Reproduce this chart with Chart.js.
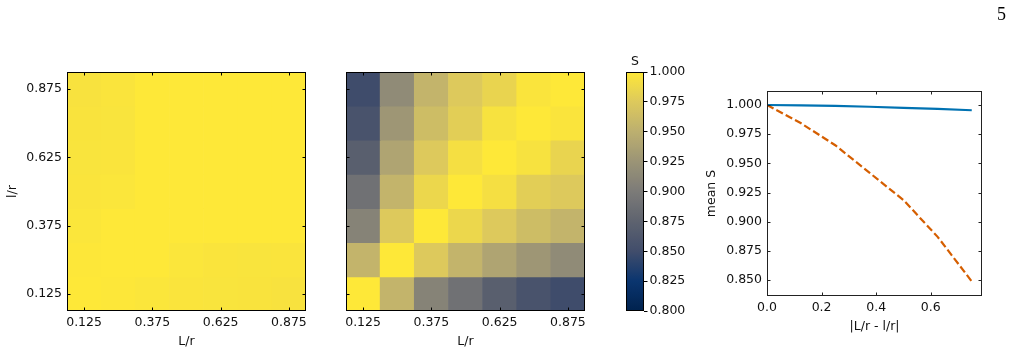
<!DOCTYPE html>
<html>
<head>
<meta charset="utf-8">
<script src="https://cdn.jsdelivr.net/npm/chart.js@4.4.0/dist/chart.umd.min.js"></script>
<style>
html,body{margin:0;padding:0;background:#fff;}
#wrap{position:relative;width:1013px;height:354px;overflow:hidden;background:#fff;}
canvas{position:absolute;top:0;}
#pg{position:absolute;left:997px;top:5px;font:18px/18px "Liberation Serif","DejaVu Serif",serif;color:#000;}
</style>
</head>
<body>
<div id="wrap">
<canvas id="h1" width="320" height="354" style="left:0px"></canvas>
<canvas id="h2" width="290" height="354" style="left:320px"></canvas>
<canvas id="cb" width="90" height="354" style="left:610px"></canvas>
<canvas id="lp" width="313" height="354" style="left:700px"></canvas>
<div id="pg">5</div>
</div>
<script>
// ---------------- data ----------------
const L_VALUES = [0.125, 0.25, 0.375, 0.5, 0.625, 0.75, 0.875];   // L/r (columns)
const l_VALUES = [0.125, 0.25, 0.375, 0.5, 0.625, 0.75, 0.875];   // l/r (rows)
const GRID_TICKS = [0.125, 0.375, 0.625, 0.875];
const CBAR_TICKS = [0.800, 0.825, 0.850, 0.875, 0.900, 0.925, 0.950, 0.975, 1.000];

// left heatmap: S(L, l), one array per l/r row, values along L/r
const leftRow_l0125 = [1.0000, 0.9992, 0.9980, 0.9970, 0.9964, 0.9962, 0.9955];
const leftRow_l0250 = [0.9992, 1.0000, 0.9998, 0.9980, 0.9970, 0.9964, 0.9970];
const leftRow_l0375 = [0.9980, 0.9998, 1.0000, 0.9999, 0.9998, 0.9998, 0.9997];
const leftRow_l0500 = [0.9970, 0.9980, 0.9999, 1.0000, 1.0000, 0.9999, 0.9998];
const leftRow_l0625 = [0.9964, 0.9970, 0.9998, 1.0000, 1.0000, 1.0000, 0.9999];
const leftRow_l0750 = [0.9962, 0.9964, 0.9998, 0.9999, 1.0000, 1.0000, 1.0000];
const leftRow_l0875 = [0.9955, 0.9970, 0.9997, 0.9998, 0.9999, 1.0000, 1.0000];

// middle heatmap
const rightRow_l0125 = [1.000, 0.955, 0.908, 0.890, 0.871, 0.857, 0.849];
const rightRow_l0250 = [0.955, 1.000, 0.975, 0.955, 0.940, 0.927, 0.916];
const rightRow_l0375 = [0.908, 0.975, 1.000, 0.986, 0.975, 0.963, 0.955];
const rightRow_l0500 = [0.890, 0.955, 0.986, 1.000, 0.993, 0.979, 0.975];
const rightRow_l0625 = [0.871, 0.940, 0.975, 0.993, 1.000, 0.995, 0.984];
const rightRow_l0750 = [0.857, 0.927, 0.963, 0.979, 0.995, 1.000, 0.997];
const rightRow_l0875 = [0.849, 0.916, 0.955, 0.975, 0.984, 0.997, 1.000];

// line plot
const DIFFS = [0, 0.125, 0.25, 0.375, 0.5, 0.625, 0.75];
const MEAN_S_SOLID  = [1.0000, 0.9997, 0.9992, 0.9985, 0.9976, 0.9966, 0.9955];
const MEAN_S_DASHED = [1.000, 0.9843, 0.9655, 0.9420, 0.9185, 0.8870, 0.8488];
const LINE_X_TICKS = [0.0, 0.2, 0.4, 0.6];
const LINE_Y_TICKS = [0.850, 0.875, 0.900, 0.925, 0.950, 0.975, 1.000];

// ---------------- styling helpers ----------------
const FONT = {family: "'DejaVu Sans', sans-serif", size: 12.5};
Chart.defaults.font.family = FONT.family;
Chart.defaults.font.size = FONT.size;
Chart.defaults.color = '#111';

const CIVIDIS = ['#00224e', '#0a356f', '#414d6b', '#5e636f', '#7c7b78', '#9b9476', '#bcaf6f', '#ddc95c', '#fee838'];
const CMIN = 0.8, CMAX = 1.0;
function hex2rgb(h) { return [parseInt(h.slice(1,3),16), parseInt(h.slice(3,5),16), parseInt(h.slice(5,7),16)]; }
const CIV_RGB = CIVIDIS.map(hex2rgb);
function cividis(t) {
  t = Math.max(0, Math.min(1, t));
  const f = t * (CIV_RGB.length - 1);
  const i = Math.min(Math.floor(f), CIV_RGB.length - 2);
  const u = f - i;
  const a = CIV_RGB[i], b = CIV_RGB[i + 1];
  const c = a.map((x, k) => Math.round(x + (b[k] - x) * u));
  return `rgb(${c[0]},${c[1]},${c[2]})`;
}
function colorFor(v) { return cividis((v - CMIN) / (CMAX - CMIN)); }

const frameTicks = {
  id: 'frameTicks',
  afterDatasetsDraw(chart, args, opts) {
    const {ctx, chartArea: a, scales} = chart;
    ctx.save();
    ctx.strokeStyle = opts.color || '#000';
    ctx.lineWidth = 1;
    const len = opts.len || 3.5;
    ctx.beginPath();
    (opts.xTicks || []).forEach(v => {
      const p = Math.round(scales.x.getPixelForValue(v)) + 0.5;
      ctx.moveTo(p, a.bottom); ctx.lineTo(p, a.bottom - len);
      ctx.moveTo(p, a.top); ctx.lineTo(p, a.top + len);
    });
    (opts.yTicks || []).forEach(v => {
      const p = Math.round(scales.y.getPixelForValue(v)) + 0.5;
      ctx.moveTo(a.left, p); ctx.lineTo(a.left + len, p);
      ctx.moveTo(a.right, p); ctx.lineTo(a.right - len, p);
    });
    ctx.stroke();
    ctx.strokeRect(a.left + 0.5, a.top + 0.5, a.right - a.left - 1, a.bottom - a.top - 1);
    ctx.restore();
  }
};

function heatmapData(rows) {
  const pts = [];
  rows.forEach((row, j) => {
    row.forEach((v, i) => {
      pts.push({x: L_VALUES[i], y: [l_VALUES[j] - 0.0625, l_VALUES[j] + 0.0625], v: v});
    });
  });
  return pts;
}

function heatmapConfig(rows, showY, padLeft, padRight) {
  return {
    type: 'bar',
    data: {
      datasets: [{
        data: heatmapData(rows),
        backgroundColor: (c) => c.raw ? colorFor(c.raw.v) : '#fff',
        borderWidth: 0,
        grouped: false,
        categoryPercentage: 1,
        barPercentage: 1
      }]
    },
    options: {
      responsive: false,
      animation: false,
      devicePixelRatio: 1,
      layout: {padding: {left: padLeft, right: padRight, top: 72, bottom: 0}},
      plugins: {
        legend: {display: false}, tooltip: {enabled: false},
        frameTicks: {xTicks: GRID_TICKS, yTicks: GRID_TICKS, len: 3.5, color: '#000'}
      },
      scales: {
        x: {
          type: 'linear', min: 0.0625, max: 0.9375, offset: false,
          grid: {display: false, drawTicks: false, offset: false},
          border: {display: false},
          afterBuildTicks: s => { s.ticks = GRID_TICKS.map(v => ({value: v})); },
          afterFit: s => { s.height = 43; },
          ticks: {autoSkip: false, maxRotation: 0, minRotation: 0, padding: 4, color: '#111',
                  callback: v => Number(v).toFixed(3)},
          title: {display: true, text: 'L/r', color: '#111', padding: {top: 0, bottom: 5}}
        },
        y: {
          type: 'linear', min: 0.0625, max: 0.9375, display: showY, beginAtZero: false,
          grid: {display: false, drawTicks: false},
          border: {display: false},
          afterBuildTicks: s => { s.ticks = GRID_TICKS.map(v => ({value: v})); },
          afterFit: s => { s.width = showY ? 67 : 0; },
          ticks: {autoSkip: false, padding: 5, color: '#111',
                  callback: v => Number(v).toFixed(3)},
          title: {display: showY, text: 'l/r', color: '#111', padding: {top: 5, bottom: 0}}
        }
      }
    },
    plugins: [frameTicks]
  };
}

new Chart(document.getElementById('h1'), heatmapConfig(
  [leftRow_l0125, leftRow_l0250, leftRow_l0375, leftRow_l0500, leftRow_l0625, leftRow_l0750, leftRow_l0875],
  true, 0, 14));
new Chart(document.getElementById('h2'), heatmapConfig(
  [rightRow_l0125, rightRow_l0250, rightRow_l0375, rightRow_l0500, rightRow_l0625, rightRow_l0750, rightRow_l0875],
  false, 26, 25));

// ---------------- colorbar ----------------
new Chart(document.getElementById('cb'), {
  type: 'bar',
  data: {
    labels: [''],
    datasets: [{
      data: [[CMIN, CMAX]],
      borderWidth: 0,
      categoryPercentage: 1,
      barPercentage: 1,
      backgroundColor: (c) => {
        const chart = c.chart;
        if (!chart.chartArea) return '#888';
        const ys = chart.scales.y;
        const g = chart.ctx.createLinearGradient(0, ys.getPixelForValue(CMIN), 0, ys.getPixelForValue(CMAX));
        const n = 64;
        for (let k = 0; k <= n; k++) g.addColorStop(k / n, cividis(k / n));
        return g;
      }
    }]
  },
  options: {
    responsive: false,
    animation: false,
    devicePixelRatio: 1,
    layout: {padding: {left: 16, right: 0, top: 52, bottom: 43}},
    plugins: {legend: {display: false}, tooltip: {enabled: false},
              frameTicks: {len: 0, color: '#000'}},
    scales: {
      x: {
        type: 'category', position: 'top',
        grid: {display: false, drawTicks: false},
        border: {display: false},
        ticks: {display: false},
        afterFit: s => { s.height = 20; },
        title: {display: true, text: 'S', color: '#111', padding: {top: 2, bottom: 0}}
      },
      y: {
        type: 'linear', position: 'right', min: CMIN, max: CMAX, beginAtZero: false,
        grid: {display: true, drawOnChartArea: false, drawTicks: true, tickLength: 3.5, color: '#000', lineWidth: 1},
        border: {display: false},
        afterBuildTicks: s => { s.ticks = CBAR_TICKS.map(v => ({value: v})); },
        afterFit: s => { s.width = 56; },
        ticks: {autoSkip: false, padding: 2, color: '#111', callback: v => Number(v).toFixed(3)}
      }
    }
  },
  plugins: [frameTicks]
});

// ---------------- line plot ----------------
new Chart(document.getElementById('lp'), {
  type: 'line',
  data: {
    datasets: [
      {
        data: DIFFS.map((x, i) => ({x: x, y: MEAN_S_SOLID[i]})),
        borderColor: '#0072b2', borderWidth: 2.2, pointRadius: 0, tension: 0, fill: false
      },
      {
        data: DIFFS.map((x, i) => ({x: x, y: MEAN_S_DASHED[i]})),
        borderColor: '#d55e00', borderWidth: 2.2, borderDash: [7.4, 3.2], pointRadius: 0, tension: 0, fill: false
      }
    ]
  },
  options: {
    responsive: false,
    animation: false,
    devicePixelRatio: 1,
    layout: {padding: {left: 0, right: 31, top: 91, bottom: 0}},
    plugins: {legend: {display: false}, tooltip: {enabled: false},
              frameTicks: {xTicks: LINE_X_TICKS, yTicks: LINE_Y_TICKS, len: 3.5, color: '#222'}},
    scales: {
      x: {
        type: 'linear', min: 0, max: 0.7875,
        grid: {display: false, drawTicks: false},
        border: {display: false},
        afterBuildTicks: s => { s.ticks = LINE_X_TICKS.map(v => ({value: v})); },
        afterFit: s => { s.height = 58; },
        ticks: {autoSkip: false, maxRotation: 0, padding: 4, color: '#111', callback: v => Number(v).toFixed(1)},
        title: {display: true, text: '|L/r - l/r|', color: '#111', padding: {top: 0, bottom: 20}}
      },
      y: {
        type: 'linear', min: 0.8363, max: 1.012,
        grid: {display: false, drawTicks: false},
        border: {display: false},
        afterBuildTicks: s => { s.ticks = LINE_Y_TICKS.map(v => ({value: v})); },
        afterFit: s => { s.width = 67; },
        ticks: {autoSkip: false, padding: 5, color: '#111', callback: v => Number(v).toFixed(3)},
        title: {display: true, text: 'mean S', color: '#111', padding: {top: 4, bottom: 0}}
      }
    }
  },
  plugins: [frameTicks]
});
</script>
</body>
</html>
